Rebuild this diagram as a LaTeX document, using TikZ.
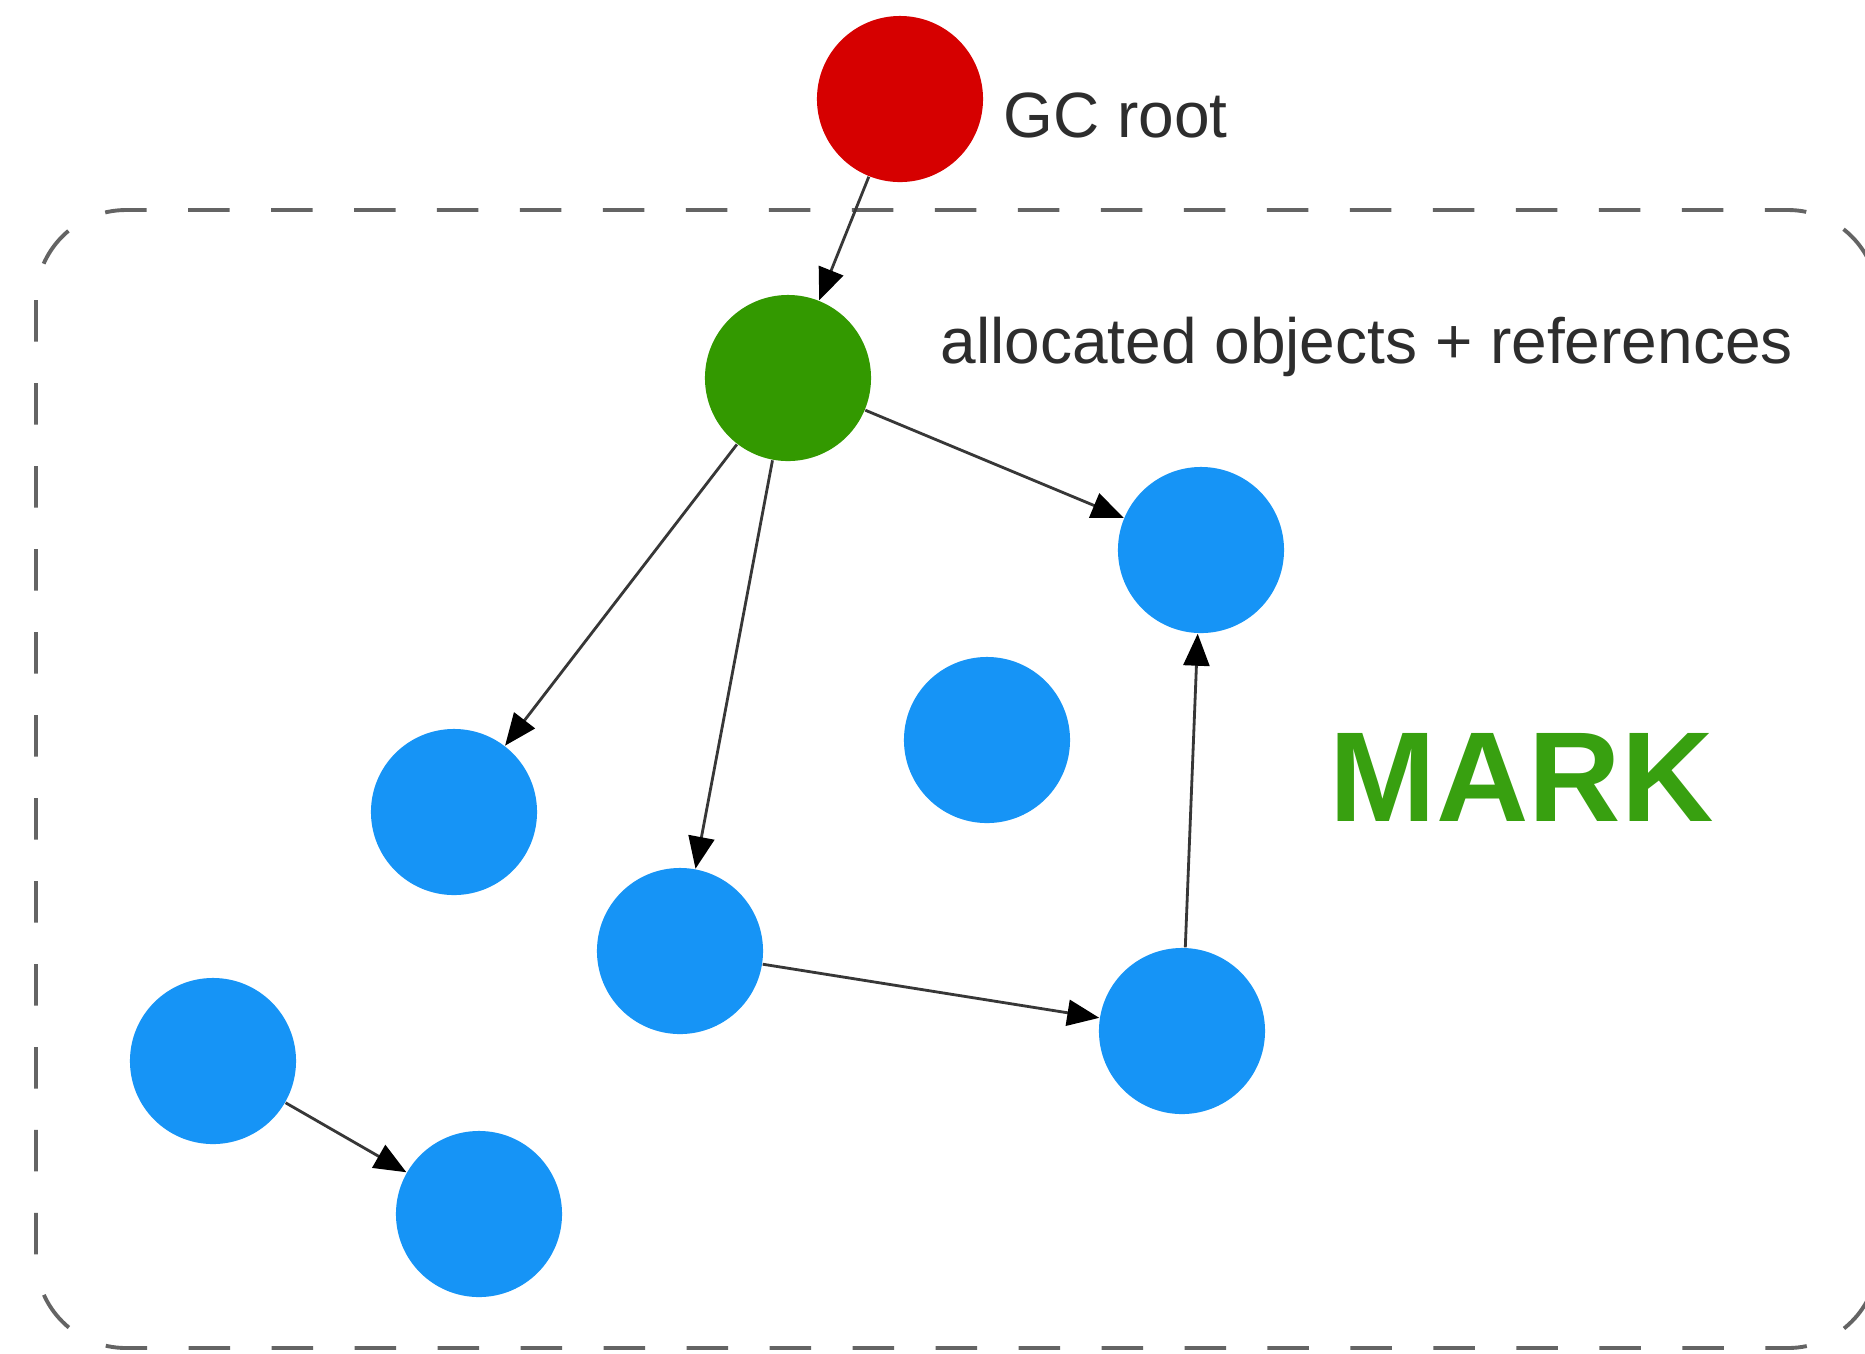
\documentclass[tikz,border=0pt]{standalone}
\usepackage{fontspec}
\setmainfont{Liberation Sans}
\usetikzlibrary{arrows.meta}
\definecolor{rootred}{RGB}{214,0,0}
\definecolor{objgreen}{RGB}{51,153,0}
\definecolor{objblue}{RGB}{22,148,246}
\definecolor{markgreen}{RGB}{56,160,16}
\definecolor{boxgray}{RGB}{100,100,100}
\definecolor{txtgray}{RGB}{45,45,45}
\definecolor{linegray}{RGB}{55,55,55}
\tikzset{
  obj/.style={circle, minimum size=1.66cm, inner sep=0pt, draw=none},
  rootobj/.style={obj, fill=rootred},
  liveobj/.style={obj, fill=objgreen},
  heapobj/.style={obj, fill=objblue},
  ref/.style={draw=linegray, line width=0.8pt, -{Triangle[length=0.32cm, width=0.26cm, color=black]}},
  lbl/.style={anchor=base west, inner sep=0pt, text=txtgray, font=\fontsize{18.2pt}{21pt}\selectfont},
  frame/.style={draw=boxgray, line width=1.1pt, dash pattern=on 11.8pt off 11.8pt, rounded corners=0.9cm}
}
\begin{document}
\begin{tikzpicture}[x=0.01cm, y=-0.01cm]
\useasboundingbox (0,0) rectangle (1865,1353);
\fill[white] (0,0) rectangle (1865,1353);
% dashed region
\draw[frame] (36,210) rectangle (1878,1348);
% nodes
\node[rootobj] (root) at (900,99) {};
\node[liveobj] (g) at (788,378) {};
\node[heapobj] (b1) at (1201,550) {};
\node[heapobj] (b2) at (987,740) {};
\node[heapobj] (b3) at (454,812) {};
\node[heapobj] (b4) at (680,951) {};
\node[heapobj] (b5) at (1182,1031) {};
\node[heapobj] (b6) at (213,1061) {};
\node[heapobj] (b7) at (479,1214) {};
% labels
\node[lbl] (rootlbl) at (1003,137) {GC root};
\node[lbl] (alloclbl) at (940,363) {allocated objects + references};
\node[anchor=base west, inner sep=0pt, text=markgreen, font=\fontsize{36.4pt}{40pt}\selectfont\bfseries] (mark) at (1329,821) {MARK};
% references
\draw[ref] (root) -- (g);
\draw[ref] (g) -- (b1);
\draw[ref] (g) -- (b3);
\draw[ref] (g) -- (b4);
\draw[ref] (b4) -- (b5);
\draw[ref] (b5) -- (b1);
\draw[ref] (b6) -- (b7);
\end{tikzpicture}
\end{document}
